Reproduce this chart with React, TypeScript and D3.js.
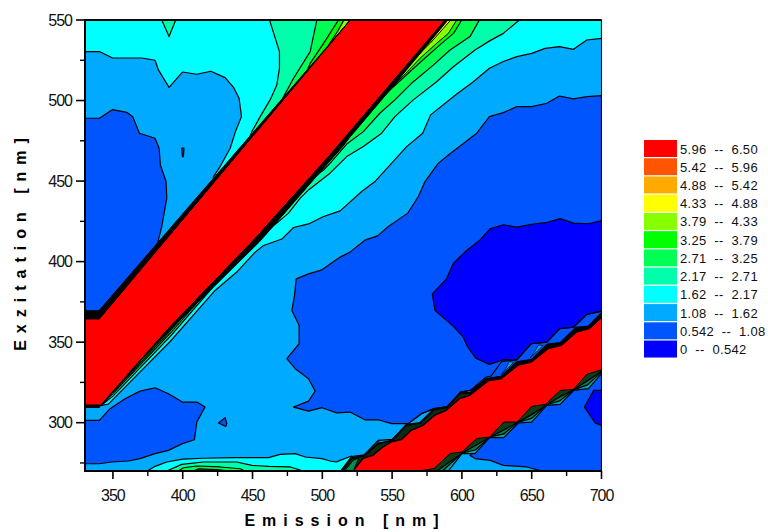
import React from "react";
import * as d3 from "d3";

type P = [number, number];

const W = 768, H = 532;
const legendLow = ["5.96", "5.42", "4.88", "4.33", "3.79", "3.25", "2.71", "2.17", "1.62", "1.08", "0.542", "0"];
const legendHigh = ["6.50", "5.96", "5.42", "4.88", "4.33", "3.79", "3.25", "2.71", "2.17", "1.62", "1.08", "0.542"];
const legendColors = ["#ff0000", "#ff5500", "#ffaa00", "#ffff00", "#88ff00", "#00ff00", "#00ff55", "#00ffaa", "#00ffff", "#00aaff", "#0055ff", "#0000ff"];
const xMajor = [350, 400, 450, 500, 550, 600, 650, 700];
const xMinor = [375, 425, 475, 525, 575, 625, 675];
const yMajor = [300, 350, 400, 450, 500, 550];
const yMinor = [275, 325, 375, 425, 475, 525];

// contour regions, as [emission nm, excitation nm]
const cyanUpper: P[] = [[330,550],[530,550],[422,445],[422,452.8],[426.8,459],[434,470.4],[438,481.3],[442.1,490],[440.4,501.4],[436.4,508.2],[430.4,514.2],[420.1,518.2],[410.1,516.3],[399.8,517.7],[390.2,508.2],[382.6,519],[380.2,525],[370.6,526.4],[349.8,526.4],[340.3,530.4],[330,530.4]];
const notch: P[] = [[385,550],[395,550],[390.2,539.7]];
const upperAqua: P[] = [[462.2,550],[469.3,530.4],[469.3,520],[467.4,509.7],[462.6,500.4],[455.5,490],[449.5,480.7],[445,470],[530,550]];
const upperSpring: P[] = [[496.1,550],[491.3,530.4],[479.4,513.8],[471,500.4],[465,490],[530,550]];
const upperGreen: P[] = [[511.6,550],[500.9,535.5],[491.3,523.1],[487,514],[530,550]];
const upperLime: P[] = [[515.5,550],[511,543],[505,535],[530,550]];
const mediumUpperLeft: P[] = [[330,489],[340.3,489],[349.8,494.4],[359.9,492.7],[364.2,490],[369,479.7],[380.2,476.6],[383.1,470.4],[384,460],[388.1,449.7],[388.6,439.4],[385,421.8],[381.9,411],[340.3,367],[330,367]];
const speck: P[] = [[399.3,470.4],[400.9,470.4],[400.5,465.2],[399.8,465.2]];

const cyanRight: P[] = [[588,550],[700,550],[700,538.6],[689.5,537.6],[679.9,531.8],[669.9,533.5],[659.6,532.4],[650,529.3],[639.3,527.3],[629.7,524.2],[619.7,520],[608.2,511.7],[596.3,504.1],[577.6,491.1],[571.9,479.7],[560.4,471.4],[549.7,461.1],[537.7,449.7],[528.2,443.5],[512.8,431.5],[500.9,428],[490.1,423.4],[479.4,421.2],[471,414],[457.9,410],[451.9,405.9],[438.7,393.5],[423.2,382.1],[391,350.4],[346.7,311.5],[340.3,310.5],[580,550]];
const aquaRight: P[] = [[641.2,550],[629.7,541.7],[620.2,537.2],[609.4,531.4],[593.9,521],[581.9,511.7],[565.2,500.4],[552,490],[542.5,479.7],[529.4,471.4],[517.5,465.2],[505.5,454.9],[500.9,451.8],[490.1,444.5],[484.2,439.4],[475.8,430.1],[467.4,423.9],[457.9,417.6],[453,413.5],[440,401],[423,385.5],[391,353.5],[350,316.5],[342,311],[580,550]];
const springRight: P[] = [[612.5,550],[605.8,539.7],[591.5,531.4],[579.5,522],[565.2,511.7],[552,500.4],[541.2,492.1],[529.4,480.7],[517.5,473],[505.5,461],[500.9,456.9],[490.1,449.7],[481.8,442.5],[469.8,431.1],[460.3,421.8],[454.3,414.5],[440,402.5],[423,387],[391,355.5],[350,318],[342,311.5],[580,550]];
const greenRight: P[] = [[599.9,550],[594,541.7],[585.5,535.5],[574.8,527.3],[562.9,518],[551,508.6],[539,498.3],[527.1,486.9],[515,472],[500,457.5],[480,437.5],[460,417.5],[440,404],[423,388],[391,357],[350,319],[580,550]];
const limeRight: P[] = [[596.3,550],[590.3,541.7],[581.9,535.5],[570,526.2],[560,517],[551,509.5],[541,500],[535,494],[580,550]];
const yellowRight: P[] = [[592,550],[586.7,544.8],[577.2,535.5],[570,529.3],[560.4,520],[551,511.7],[541.2,503.5],[535,497],[580,550]];

const mediumMain: P[] = [[700,503],[689.5,502.4],[679.9,501],[669.9,502.8],[660.8,498.3],[650,496.2],[639.3,496.2],[629.7,492.5],[619.7,490],[610.6,479.7],[590.3,466.2],[583,461],[573.6,449.7],[568.8,440.4],[561.2,430.1],[547.3,421.8],[539.6,416],[530.5,413.3],[519.8,405.9],[512.8,402.8],[499.7,394.9],[490.1,392.4],[481.3,389.3],[480.1,379],[478.2,369.7],[483.4,360.4],[483.4,349],[474.6,339.7],[480.6,333.5],[490.1,327.3],[494.9,319.6],[490.1,313.4],[479.4,309.7],[490.1,307.2],[499.7,309.3],[510.3,306.1],[519.8,306.6],[530.5,301.8],[540,301.8],[549.7,299.4],[561.6,299.4],[571,305.6],[580,308.7],[590,310],[599,319],[606,320],[617.3,326.9],[628.5,328.7],[639.3,337.6],[650,339],[661.3,348.6],[670.4,349.4],[681.8,358.9],[690.7,359.7],[700,368]];
const darkMain: P[] = [[700,425.5],[690.7,423.5],[679.9,423.9],[670.4,426.7],[660.8,424.3],[650,423.2],[639.3,421.4],[629.7,422.9],[620.2,420.3],[613,413.5],[603.4,406.9],[593.9,399],[589,389.3],[578.8,380],[580.7,369.7],[593.9,359.8],[601,353.1],[603.9,347.3],[609.9,340.1],[619.7,336.2],[629.7,339.1],[639.3,339],[649.6,349],[660.8,350],[670,358.3],[680,359.3],[689.5,367.2],[700,369.3]];
const mediumLowerLeft: P[] = [[330,301.4],[340.3,301.4],[347.9,308.7],[358.7,314.9],[369.4,319.6],[380.2,321.7],[389.8,318],[399.8,312.8],[410.1,312.8],[416,309.7],[410.1,300.4],[408.4,289.4],[399.8,287],[389.8,282.8],[380.2,280.8],[369.4,277.7],[361.1,276.2],[349.1,275.6],[340.3,274.5],[330,274.5]];
const spot: P[] = [[425.6,299.8],[430.4,303.1],[431.6,299.4],[430.9,297.7]];
const cyanBottom: P[] = [[374.7,270],[380.2,272.9],[388.6,275.6],[399.8,277.4],[414.8,277.9],[436.4,278.3],[449.5,278.3],[461.5,278.3],[469.8,280.3],[480.6,280.8],[487.8,278.7],[499.7,277.7],[505.5,276.2],[510.2,275.6],[512.6,276.6],[521,279.3],[530,270]];
const aquaBottom: P[] = [[388.6,270],[399.3,274.1],[414.8,275.6],[438.7,275.6],[449.5,273.5],[461.5,272.9],[477,272.5],[486.5,270]];
const springBottom: P[] = [[396.9,270],[400.5,272],[410.1,273.1],[426.8,272.5],[441.1,271.4],[444.7,270]];
const greenBottom: P[] = [[407.7,270],[411.3,271.4],[424.4,270.8],[434,270]];
const mediumLowerRight: P[] = [[605.8,279.7],[609.4,277.7],[620.2,276.6],[629.7,273.5],[646.5,272.5],[657.2,270],[700,270],[700,333],[660,312],[620,291]];
const darkCorner: P[] = [[700,320],[694.3,320],[687.8,309.7],[695.5,299.8],[700,298.3]];

const lowerFanOuter: P[] = [[569,270],[590.3,270],[600,280.8],[609.4,280.8],[619.7,290.7],[630,290.7],[640.5,299.8],[650,300.4],[660.8,310.7],[670.4,311.4],[680,320],[690.7,321.1],[700,330.4],[700,340],[569,280]];
const lowerFanMiddle: P[] = [[569,270],[586,270],[600,281],[609.8,283.2],[620,291],[630,293],[640,300.2],[650,302.7],[660.5,311],[670,313.5],[680,320.4],[690,323.5],[700,331.5],[700,340],[569,280]];
const lowerFanInner: P[] = [[569,270],[582,270],[600,281],[610,286],[620,291],[630,295.5],[640,300.2],[650,305],[660.5,311],[670,316],[680,320.4],[690,326],[700,332],[700,340],[569,280]];

const upperOuter: P[] = [[513,270],[521,279],[530,280],[540,289],[550,289.6],[561.6,299.4],[571,305.6],[580,308.7],[590,310],[599,319],[606,320],[617.3,328.3],[621,329],[628.5,338],[639.3,339],[649.6,349],[660.8,350],[670,358.3],[680,359.3],[689.5,367.2],[700,369.3]];
const upperFanLeft: P[] = [[514,270],[521,278],[530,279.5],[540,287],[550,289],[560,298.5],[570,299.8],[580,308.2],[589,309.5],[599,318.5],[606,318.5],[606,316.9],[598.7,314.9],[589,307.6],[580.7,304.5],[572.4,298.3],[564,295.2],[556.8,289.4],[549.7,288],[543.7,284.9],[536.5,279.7],[529.4,277.7],[522.2,270]];
const upperFanRight: P[] = [[606,318.5],[617.3,326.9],[628.5,328.7],[639.3,337.6],[650,339],[661.3,348.6],[670.4,349.4],[681.8,358.9],[690.7,359.7],[700,368],[700,365.1],[691.4,358.3],[682.3,356.2],[671.6,348],[662,345.9],[650,337.6],[640.5,335.6],[628.5,327.3],[619,325.8],[605.8,316.9]];
const fanTip: P[] = [[516,270],[522,276.5],[526,278],[522.2,270]];
const slivers: P[][] = [
  [[628,329.8],[637,337.4],[634,338],[631,333]],
  [[649,340.3],[658,347.8],[655,348.3],[652,344]],
];
const cyanSliver: P[] = [[532,281],[539,287.5],[541,288.5],[535,282]];

const redMain: P[] = [[330,364.5],[340.3,364.5],[520,550],[588,550],[505.5,466.2],[451,413.5],[391,359.6],[340.8,310.5],[330,310.5]];
const redSecond: P[] = [[522.2,270],[529.4,277.7],[536.5,279.7],[543.7,284.9],[549.7,288],[556.8,289.4],[564,295.2],[572.4,298.3],[580.7,304.5],[589,307.6],[598.7,314.9],[605.8,316.9],[619,325.8],[628.5,327.3],[640.5,335.6],[650,337.6],[662,345.9],[671.6,348],[682.3,356.2],[691.4,358.3],[700,365.1],[700,332.9],[689.5,330],[680,320.7],[670.4,320],[660,311.4],[650,310.1],[639.5,300.4],[630,300.4],[620,291.1],[610.6,290.1],[600,281.8],[591.5,280.8],[580,271.5],[569,270]];
const blackUpper: P[] = [[330,369.5],[340,369.5],[520,550],[340.3,364.5],[330,364.5]];
const blackLower: P[] = [[588,550],[505.5,466.2],[451,413.5],[391,359.6],[360,329.5],[391,357.8],[455,412.3],[508,465.2],[545,503],[590,550]];
const blackStep: P[] = [[330,309.5],[340.5,309.5],[341,311],[330,311]];

const x = d3.scaleLinear().domain([330, 700]).range([85, 601.5]);
const y = d3.scaleLinear().domain([270, 550]).range([471, 20]);
const path = d3.line<P>().x(d => x(d[0])).y(d => y(d[1]));
const closed = (p: P[]) => (path(p) || "") + "Z";

const layers: [P[], string, number][] = [
  [cyanUpper, "#00ffff", 1.2], [notch, "#00ffaa", 1.2], [upperAqua, "#00ffaa", 1.2], [upperSpring, "#00ff55", 1.2], [upperGreen, "#00ff00", 1.2], [upperLime, "#88ff00", 1.2],
  [mediumUpperLeft, "#0055ff", 1.2], [speck, "#0055ff", 1.2],
  [cyanRight, "#00ffff", 1.2], [aquaRight, "#00ffaa", 1.2], [springRight, "#00ff55", 1.2], [greenRight, "#00ff00", 1.2], [limeRight, "#88ff00", 1], [yellowRight, "#ffff00", 1],
  [mediumMain, "#0055ff", 1.2], [darkMain, "#0000ff", 1.2], [mediumLowerLeft, "#0055ff", 1.2], [spot, "#0055ff", 1.2],
  [cyanBottom, "#00ffff", 1.2], [aquaBottom, "#00ffaa", 1.2], [springBottom, "#00ff55", 1.2], [greenBottom, "#0a6a30", 1.2],
  [mediumLowerRight, "#0055ff", 1.2], [darkCorner, "#0000ff", 1.2],
  [lowerFanOuter, "#0aa0a0", 1.2], [lowerFanMiddle, "#0a7a50", 1.2], [lowerFanInner, "#103c18", 1.2],
  [slivers[0], "#00aaff", 0.7], [slivers[1], "#00aaff", 0.7], [cyanSliver, "#00ffff", 0.7],
  [upperFanLeft, "#0c2a14", 2], [upperFanRight, "#000000", 2], [fanTip, "#0a8a50", 0.8],
  [redMain, "#ff0000", 1], [redSecond, "#ff0000", 1], [blackUpper, "#000000", 1], [blackLower, "#000000", 1], [blackStep, "#000000", 1],
];

export default function App() {
  const font = "'Liberation Sans', Arial, sans-serif";
  const px0 = x.range()[0], px1 = x.range()[1], py0 = y.range()[0], py1 = y.range()[1];
  return (
    <svg width={W} height={H} viewBox={`0 0 ${W} ${H}`} style={{ position: "absolute", left: 0, top: 0, background: "#fff" }} fontFamily={font}>
      <defs><clipPath id="plot"><rect x={px0} y={py1} width={px1 - px0} height={py0 - py1} /></clipPath></defs>
      <g clipPath="url(#plot)">
        <rect x={px0} y={py1} width={px1 - px0} height={py0 - py1} fill="#00aaff" />
        {layers.map(([p, c, w], i) => (
          <path key={i} d={closed(p)} fill={c} stroke="#000" strokeWidth={w} strokeLinejoin="round" />
        ))}
        <path d={path(upperOuter) || ""} fill="none" stroke="#000" strokeWidth={1.2} />
      </g>
      <rect x={px0} y={py1} width={px1 - px0} height={py0 - py1} fill="none" stroke="#000" strokeWidth={1} />
      <line x1={px0} x2={px1} y1={py1} y2={py1} stroke="#000" strokeWidth={2} />
      <line x1={px0} x2={px0} y1={py1 - 1} y2={py0 + 1} stroke="#000" strokeWidth={2} />
      <line x1={px0} x2={px1} y1={py0} y2={py0} stroke="#000" strokeWidth={2} />
      {xMajor.map(v => <g key={v}>
        <line x1={x(v)} x2={x(v)} y1={py0} y2={py0 + 8} stroke="#000" strokeWidth={1.6} />
        <text x={x(v)} y={py0 + 29.5} textAnchor="middle" fontSize={16} letterSpacing={-1} fill="#111">{v}</text>
      </g>)}
      {xMinor.map(v => <line key={v} x1={x(v)} x2={x(v)} y1={py0} y2={py0 + 5} stroke="#000" strokeWidth={1.4} />)}
      {yMajor.map(v => <g key={v}>
        <line x1={px0 - 9} x2={px0} y1={y(v)} y2={y(v)} stroke="#000" strokeWidth={1.6} />
        <text x={px0 - 13} y={y(v) + 5.5} textAnchor="end" fontSize={16} letterSpacing={-1} fill="#111">{v}</text>
      </g>)}
      {yMinor.map(v => <line key={v} x1={px0 - 5} x2={px0} y1={y(v)} y2={y(v)} stroke="#000" strokeWidth={1.4} />)}
      <text x={345} y={526} textAnchor="middle" fontSize={16} fontWeight="bold" letterSpacing={7} style={{ whiteSpace: "pre" }}>{"Emission [nm]"}</text>
      <text transform="translate(26,241) rotate(-90)" textAnchor="middle" fontSize={16} fontWeight="bold" letterSpacing={7} style={{ whiteSpace: "pre" }}>{"Exzitation [nm]"}</text>
      {legendColors.map((c, i) => <g key={c}>
        <rect x={644} y={140 + i * 18.23} width={33} height={17} fill={c} />
        <text x={680} y={153.5 + i * 18.23} fontSize={13} letterSpacing={0.3} fill="#111" style={{ whiteSpace: "pre" }}>{`${legendLow[i]}  --  ${legendHigh[i]}`}</text>
      </g>)}
    </svg>
  );
}
